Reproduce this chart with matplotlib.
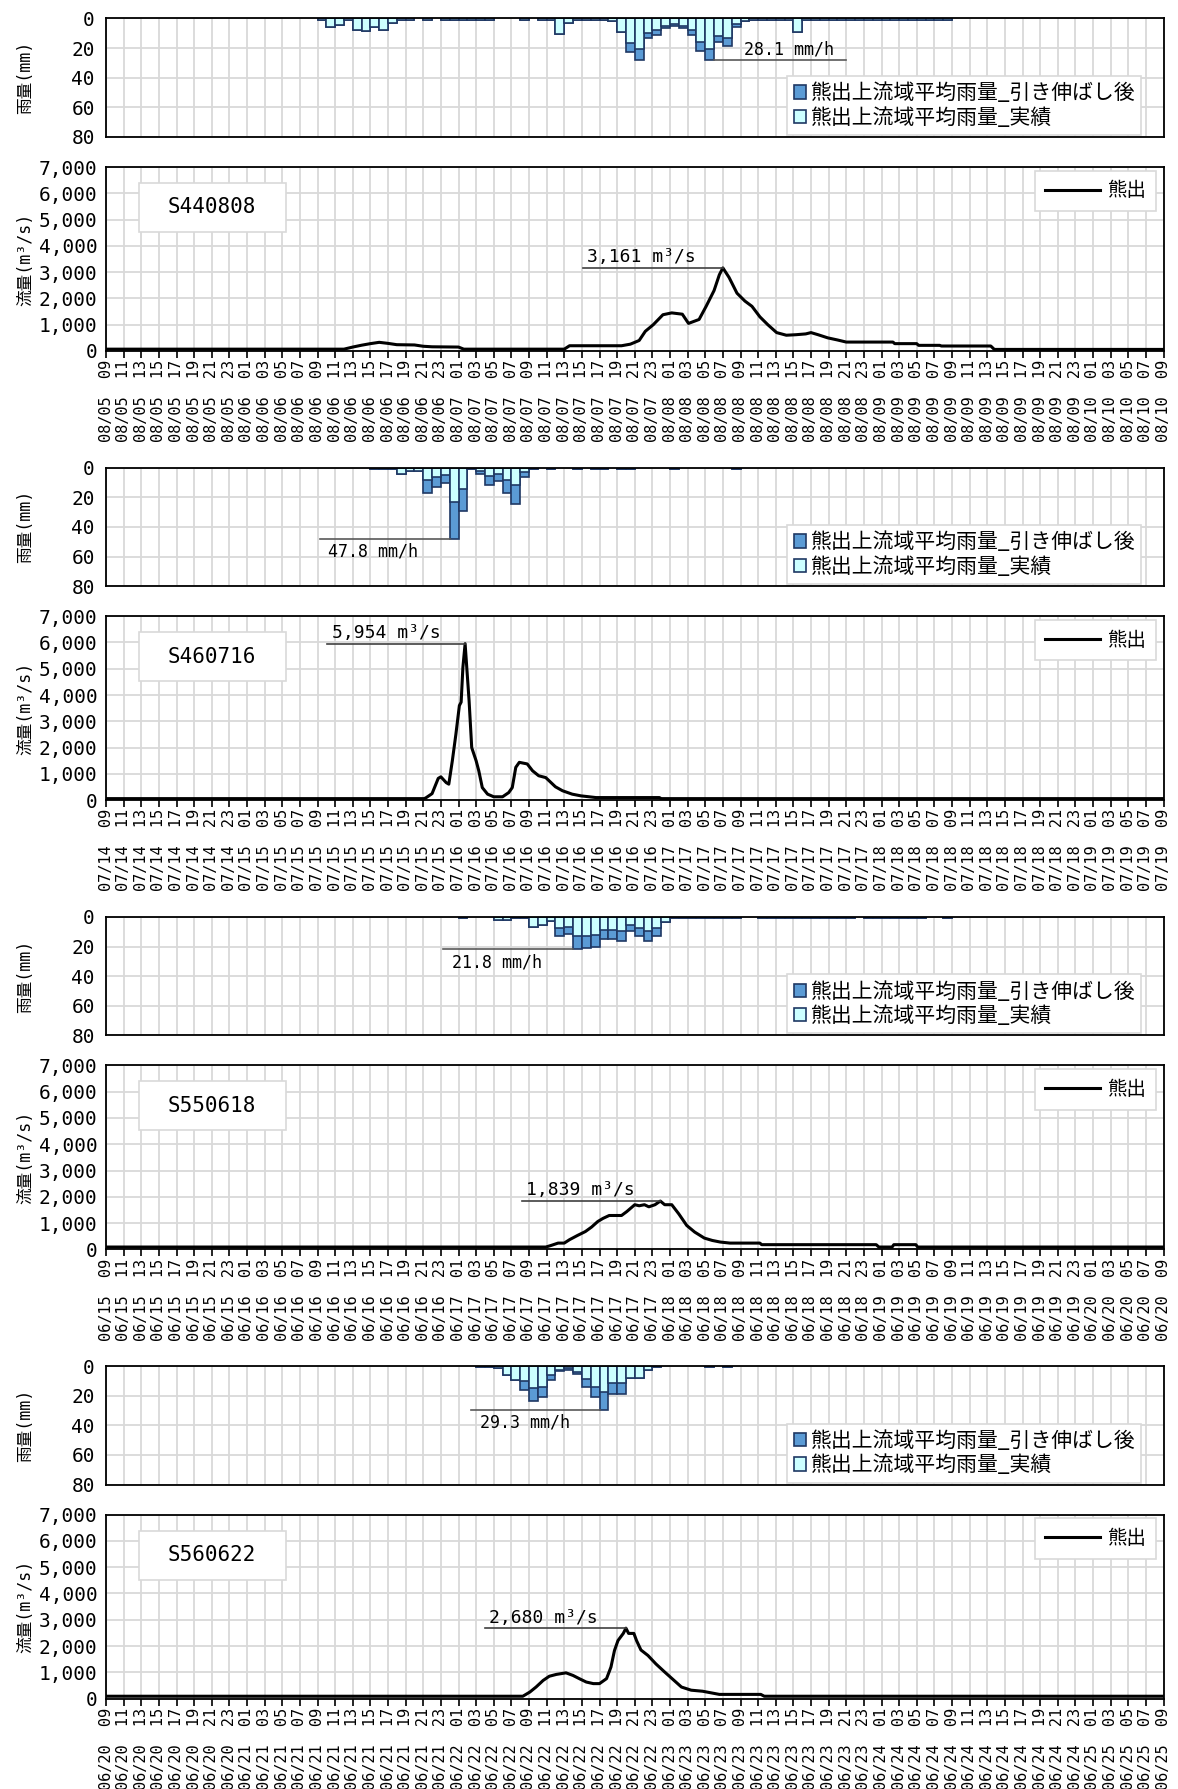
"""
熊出地点 主要洪水のハイエトグラフ・ハイドログラフ（4洪水）
出力：out.png
"""

import datetime as dt
import numpy as np
import matplotlib
matplotlib.use("Agg")
import matplotlib.pyplot as plt
from matplotlib.patches import Rectangle, Patch
from matplotlib.lines import Line2D
from matplotlib.ticker import FuncFormatter

# 半角は等幅、全角は CJK フォントで描く
plt.rcParams["font.family"] = ["DejaVu Sans Mono", "Noto Sans CJK JP"]

OUTPUT_PNG = "out.png"

# ---- 洪水名・開始時刻（横軸は開始から120時間） ----
EVENT_NAMES = ["S440808", "S460716", "S550618", "S560622"]
EVENT_STARTS = ["1969-08-05 09:00", "1971-07-14 09:00",
                "1980-06-15 09:00", "1981-06-20 09:00"]

# ---- 流域平均雨量（mm/h）: 実績は RAIN_FROM 時から、引き伸ばし後は EXT_FROM 時から ----
E1_RAIN_FROM = 24
E1_RAIN_ACT = [0.8, 6.0, 4.1, 0.8, 8.0, 8.7, 5.7, 7.5, 3.1, 1.0,
               1.0, 0.0, 1.0, 0.0, 0.8, 0.8, 0.8, 0.8, 0.8, 0.8,
               0.0, 0.0, 0.0, 0.8, 0.0, 0.8, 0.8, 10.6, 3.2, 1.0,
               1.0, 1.0, 1.0, 1.8, 9.0, 16.5, 20.3, 9.7, 8.0, 4.8,
               3.5, 4.8, 8.0, 16.0, 20.5, 11.8, 13.5, 4.0, 2.0, 1.2,
               1.2, 1.2, 1.2, 1.0, 9.2, 1.2, 0.8, 0.8, 0.8, 1.2,
               1.2, 0.8, 0.8, 0.8, 0.8, 0.8, 0.8, 0.8, 0.8, 0.8,
               0.8, 0.8]
E1_EXT_FROM = 59
E1_RAIN_EXT = [22.6, 27.8, 13.3, 11.0, 6.6, 4.8, 6.6, 11.0, 21.9, 28.1,
               16.2, 18.5, 5.5]

E2_RAIN_FROM = 30
E2_RAIN_ACT = [0.8, 0.8, 0.8, 4.4, 2.0, 2.0, 8.3, 6.3, 5.0, 23.3,
               14.3, 0.8, 2.2, 5.8, 4.5, 8.3, 11.9, 3.0, 0.8, 0.0,
               0.8, 0.0, 0.0, 0.8, 0.0, 0.8, 0.8, 0.0, 0.8, 0.8,
               0.0, 0.0, 0.0, 0.0, 0.8, 0.0, 0.0, 0.0, 0.0, 0.0,
               0.0, 0.8]
E2_EXT_FROM = 36
E2_RAIN_EXT = [17.0, 13.0, 10.5, 47.8, 29.3, 0.8, 4.4, 11.8, 9.3, 17.1,
               24.4, 6.2]

E3_RAIN_FROM = 40
E3_RAIN_ACT = [0.8, 0.0, 0.0, 0.0, 1.8, 1.8, 0.8, 0.8, 7.0, 5.2,
               2.9, 7.6, 6.9, 13.0, 12.6, 12.0, 8.9, 8.9, 9.6, 5.8,
               7.8, 9.8, 7.8, 3.6, 0.8, 0.8, 0.8, 0.8, 0.8, 0.8,
               0.8, 0.8, 0.0, 0.0, 0.8, 0.8, 0.8, 0.8, 0.8, 0.8,
               0.8, 0.8, 0.8, 0.8, 0.8, 0.0, 0.8, 0.8, 0.8, 0.8,
               0.8, 0.8, 0.8, 0.0, 0.0, 0.8]
E3_EXT_FROM = 51
E3_RAIN_EXT = [13.0, 11.5, 21.8, 21.0, 20.0, 14.8, 14.8, 16.0, 9.7, 13.0,
               16.4, 13.0]

E4_RAIN_FROM = 42
E4_RAIN_ACT = [0.8, 0.8, 1.6, 6.1, 9.5, 10.0, 15.1, 14.0, 6.1, 2.3,
               1.6, 3.8, 8.4, 14.0, 17.8, 11.7, 11.7, 7.7, 7.7, 2.7,
               0.8, 0.0, 0.0, 0.0, 0.0, 0.0, 0.8, 0.0, 0.8]
E4_EXT_FROM = 47
E4_RAIN_EXT = [15.8, 23.5, 20.8, 9.5, 3.2, 2.3, 5.0, 14.0, 20.8, 29.3,
               18.5, 18.5]

# ---- 熊出地点流量（m3/s）: 時刻（開始からの時間）と流量 ----
E1_FLOW_T = [0, 27, 28, 29, 30, 31, 32, 33, 35, 36,
             37, 40, 40.6, 52, 52.6, 58.5, 59.5, 60.5, 61.2, 62.1,
             63.2, 64.2, 65.4, 66.1, 67.3, 68.1, 69, 69.6, 70, 70.7,
             71.6, 72.5, 73.3, 74.2, 75.1, 76.1, 77.2, 78.3, 79.4, 80,
             80.8, 81.9, 83, 84, 89.3, 89.5, 92, 92.2, 94.6, 94.8,
             100.4, 100.8, 120]
E1_FLOW_Q = [70, 70, 150, 220, 280, 330, 290, 240, 230, 180,
             160, 150, 70, 70, 200, 200, 260, 400, 750, 1000,
             1380, 1450, 1400, 1050, 1200, 1700, 2300, 2900, 3161, 2800,
             2200, 1900, 1700, 1300, 1000, 700, 600, 620, 650, 700,
             620, 500, 420, 340, 340, 280, 280, 215, 215, 190,
             190, 60, 60]

E2_FLOW_T = [0, 36.1, 36.3, 37.0, 37.7, 38.0, 38.6, 38.9, 39.3, 39.7,
             40.1, 40.3, 40.5, 40.75, 41.2, 41.5, 42.0, 42.3, 42.7, 43.3,
             44.0, 45.0, 45.7, 46.1, 46.5, 46.9, 47.8, 48.4, 49.1, 49.9,
             51.0, 51.8, 52.9, 53.9, 55.6, 62.8, 63.0, 120]
E2_FLOW_Q = [60, 60, 90, 250, 830, 890, 670, 610, 1500, 2500,
             3600, 3730, 5060, 5954, 3790, 2000, 1500, 1120, 480, 230,
             130, 130, 290, 480, 1250, 1440, 1380, 1120, 930, 860,
             510, 360, 230, 165, 100, 100, 60, 60]

E3_FLOW_T = [0, 49.9, 50.5, 51.3, 52, 52.6, 53.5, 54.4, 55.1, 55.8,
             56.4, 57.1, 58.5, 59.1, 60, 60.5, 61.1, 61.6, 62.3, 62.9,
             63.4, 64.2, 65, 65.9, 66.8, 67.9, 68.8, 69.7, 70.8, 74.2,
             74.4, 87.4, 87.7, 89.2, 89.4, 91.9, 92.1, 120]
E3_FLOW_Q = [90, 90, 150, 240, 240, 370, 530, 680, 850, 1060,
             1180, 1290, 1290, 1440, 1700, 1660, 1700, 1620, 1700, 1839,
             1700, 1700, 1350, 910, 660, 430, 340, 280, 240, 240,
             180, 180, 90, 90, 180, 180, 90, 90]

E4_FLOW_T = [0, 47.3, 48.1, 48.8, 49.6, 50.3, 51.1, 52.2, 53, 53.7,
             54.5, 55.3, 56, 56.8, 57.3, 57.7, 58.1, 58.7, 59, 59.3,
             59.9, 60.2, 60.7, 61.5, 62.4, 63.4, 64.3, 65.3, 66.4, 67.7,
             69.6, 74.3, 74.7, 120]
E4_FLOW_Q = [90, 90, 250, 440, 690, 850, 920, 980, 880, 760,
             630, 570, 570, 760, 1200, 1830, 2210, 2480, 2680, 2480,
             2480, 2210, 1850, 1640, 1320, 1010, 740, 440, 320, 280,
             160, 160, 90, 90]

# ---- 注記の配置（時間軸上の位置） ----
# rain: (引出線の反対端, 文字の左端, 文字を線の上に置くか)
RAIN_NOTE = [(84.0, 72.4, True), (24.3, 25.2, False),
             (38.2, 39.3, False), (41.4, 42.4, False)]
FLOW_NOTE = [54.1, 25.1, 47.2, 43.0]

LEGEND_RAIN = ["熊出上流域平均雨量_引き伸ばし後", "熊出上流域平均雨量_実績"]
LEGEND_FLOW = "熊出"
CJK = ["Noto Sans CJK JP", "DejaVu Sans"]

DARK = "#5B9BD5"
LIGHT = "#CCFFFF"
NAVY = "#1F3864"
GRID = "#D9D9D9"
N_HOURS = 120


def rain_series(rain_from, act_vals, ext_from, ext_vals):
    act = np.zeros(N_HOURS)
    act[rain_from:rain_from + len(act_vals)] = act_vals
    ext = act.copy()
    ext[ext_from:ext_from + len(ext_vals)] = ext_vals
    return act, ext


def time_labels(start):
    t0 = dt.datetime.strptime(start, "%Y-%m-%d %H:%M")
    return [(t0 + dt.timedelta(hours=h)).strftime("%m/%d  %H")
            for h in range(0, N_HOURS + 1, 2)]


def style_box(ax):
    for s in ax.spines.values():
        s.set_color("black")
        s.set_linewidth(1.3)
        s.set_zorder(5)
    ax.set_xlim(0, N_HOURS)
    ax.set_xticks(np.arange(0, N_HOURS + 1, 2))
    ax.grid(True, color=GRID, linewidth=1.3)
    ax.set_axisbelow(True)


def main():
    events = [
        (rain_series(E1_RAIN_FROM, E1_RAIN_ACT, E1_EXT_FROM, E1_RAIN_EXT), E1_FLOW_T, E1_FLOW_Q),
        (rain_series(E2_RAIN_FROM, E2_RAIN_ACT, E2_EXT_FROM, E2_RAIN_EXT), E2_FLOW_T, E2_FLOW_Q),
        (rain_series(E3_RAIN_FROM, E3_RAIN_ACT, E3_EXT_FROM, E3_RAIN_EXT), E3_FLOW_T, E3_FLOW_Q),
        (rain_series(E4_RAIN_FROM, E4_RAIN_ACT, E4_EXT_FROM, E4_RAIN_EXT), E4_FLOW_T, E4_FLOW_Q),
    ]

    W, H = 1178.0, 1789.0
    fig = plt.figure(figsize=(W / 100, H / 100), dpi=100, facecolor="white")
    left, width = 106 / W, 1057.5 / W
    hours = np.arange(N_HOURS)

    for k, ((act, ext), ft, fq) in enumerate(events):
        top = 18.5 + 449.2 * k
        ax_r = fig.add_axes([left, 1 - (top + 118.5) / H, width, 118.5 / H])
        ftop = top + 148.5
        ax_q = fig.add_axes([left, 1 - (ftop + 184) / H, width, 184 / H])

        # --- 雨量（下向き棒） ---
        style_box(ax_r)
        ax_r.set_ylim(80, 0)
        ax_r.set_yticks(range(0, 81, 20))
        ax_r.set_xticklabels([])
        ax_r.tick_params(axis="x", length=0)
        ax_r.tick_params(axis="y", length=0, labelsize=14, pad=8)

        m = ext > 0
        ax_r.bar(hours[m], ext[m], width=1, align="edge", color=DARK,
                 edgecolor=NAVY, linewidth=1.2, zorder=2)
        m = act > 0
        ax_r.bar(hours[m], act[m], width=1, align="edge", color=LIGHT,
                 edgecolor=NAVY, linewidth=1.2, zorder=3)

        ip = int(np.argmax(ext))
        peak = ext[ip]
        far, tx, above = RAIN_NOTE[k]
        x_near = ip + 1 if far > ip else ip
        ax_r.plot([x_near, far], [peak, peak], color="#595959", lw=1.2, zorder=4)
        if above:
            ax_r.text(tx, peak - 1.0, f"{peak:.1f} mm/h", ha="left", va="bottom",
                      fontsize=12, zorder=4)
        else:
            ax_r.text(tx, peak + 3.0, f"{peak:.1f} mm/h", ha="left", va="top",
                      fontsize=12, zorder=4)

        handles = [Patch(facecolor=DARK, edgecolor=NAVY, linewidth=1.2),
                   Patch(facecolor=LIGHT, edgecolor=NAVY, linewidth=1.2)]
        leg = ax_r.legend(handles, LEGEND_RAIN, loc="lower right",
                          bbox_to_anchor=(0.979, 0.017),
                          prop={"family": CJK, "size": 15},
                          frameon=True, fancybox=False, framealpha=1,
                          edgecolor=GRID, handlelength=0.6, handleheight=0.6,
                          handletextpad=0.2, borderpad=0.3, labelspacing=0.12,
                          borderaxespad=0)
        leg.get_frame().set_linewidth(1.2)
        leg.set_zorder(6)

        # --- 流量 ---
        style_box(ax_q)
        ax_q.set_ylim(0, 7000)
        ax_q.set_yticks(range(0, 7001, 1000))
        ax_q.yaxis.set_major_formatter(FuncFormatter(lambda v, p: f"{int(v):,}"))
        ax_q.tick_params(axis="y", length=0, labelsize=14, pad=6)
        ax_q.set_xticklabels(time_labels(EVENT_STARTS[k]), rotation=90,
                             fontsize=11)
        ax_q.tick_params(axis="x", direction="out", length=5, width=1.2,
                         pad=1.5)

        ax_q.plot(ft, fq, color="black", lw=2.2, zorder=3,
                  solid_joinstyle="round")

        iq = int(np.argmax(fq))
        qp, tp = fq[iq], ft[iq]
        x0 = FLOW_NOTE[k]
        ax_q.plot([x0, tp], [qp, qp], color="#404040", lw=1.2, zorder=4)
        ax_q.text(x0 + 0.5, qp + 60, f"{qp:,.0f} m³/s", ha="left",
                  va="bottom", fontsize=13, zorder=4)

        ax_q.add_patch(Rectangle((0.031, 0.647), 0.139, 0.266,
                                 transform=ax_q.transAxes, facecolor="white",
                                 edgecolor=GRID, linewidth=1.2, zorder=4))
        ax_q.text(0.1005, 0.78, EVENT_NAMES[k], transform=ax_q.transAxes,
                  ha="center", va="center", fontsize=15, zorder=5)

        leg = ax_q.legend([Line2D([], [], color="black", lw=2.2)], [LEGEND_FLOW],
                          loc="upper right", bbox_to_anchor=(0.993, 0.98),
                          prop={"family": CJK, "size": 14},
                          frameon=True, fancybox=False,
                          framealpha=1, edgecolor=GRID, handlelength=2.8,
                          handletextpad=0.4, borderpad=0.5, borderaxespad=0)
        leg.get_frame().set_linewidth(1.2)

        # 縦軸タイトル
        fig.text(25 / W, 1 - (top + 59) / H, "雨量(mm)", rotation=90,
                 ha="center", va="center", fontsize=12)
        fig.text(25 / W, 1 - (ftop + 92) / H, "流量(m³/s)", rotation=90,
                 ha="center", va="center", fontsize=12)

    fig.savefig(OUTPUT_PNG, dpi=100, facecolor="white")
    plt.close(fig)


if __name__ == "__main__":
    main()
